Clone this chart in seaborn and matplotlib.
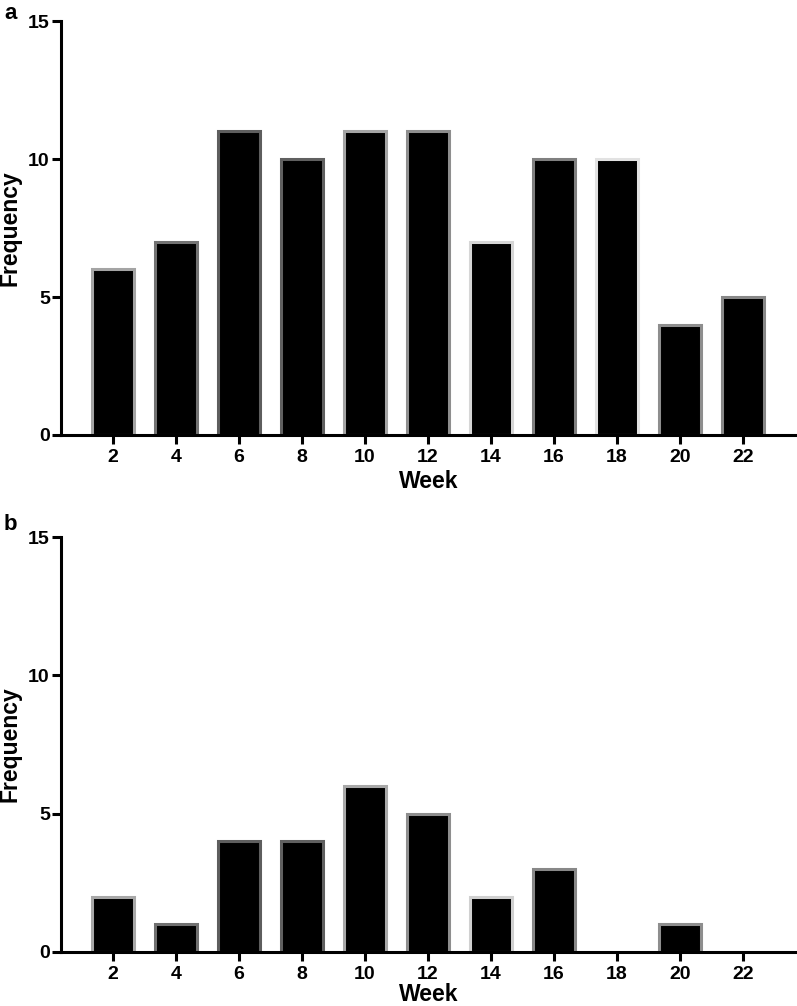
import matplotlib
matplotlib.use("Agg")
import matplotlib.pyplot as plt
import seaborn as sns
import pandas as pd

weeks = ["2", "4", "6", "8", "10", "12", "14", "16", "18", "20", "22"]
freq_a = [6, 7, 11, 10, 11, 11, 7, 10, 10, 4, 5]
freq_b = [2, 1, 4, 4, 6, 5, 2, 3, 0, 1, 0]
edge_a = ["#a4a4a4", "#737373", "#5e5e5e", "#606060", "#a4a4a4", "#8e8e8e",
          "#d6d6d6", "#808080", "#e2e2e2", "#8e8e8e", "#888888"]
edge_b = ["#a8a8a8", "#707070", "#5e5e5e", "#606060", "#a8a8a8", "#8e8e8e",
          "#d0d0d0", "#888888", "#e2e2e2", "#8e8e8e", "#888888"]
panel_labels = ["a", "b"]

sns.set_theme(style="ticks")
plt.rcParams['font.family'] = ['Liberation Sans', 'DejaVu Sans']
plt.rcParams['font.weight'] = 'bold'
plt.rcParams['text.color'] = 'black'

fig = plt.figure(figsize=(7.97, 10.06), dpi=100)
axA = fig.add_axes([0.0765, 0.5676, 0.9235, 0.4115])
axB = fig.add_axes([0.0765, 0.0537, 0.9235, 0.4125])

for ax, freq, edges, lp in [(axA, freq_a, edge_a, 3), (axB, freq_b, edge_b, 0)]:
    df = pd.DataFrame({"Week": weeks, "Frequency": freq})
    sns.barplot(data=df, x="Week", y="Frequency", order=weeks, color="black",
                width=0.67, ax=ax, saturation=1)
    for p, ec, v in zip(ax.patches, edges, freq):
        p.set_facecolor("black")
        p.set_edgecolor(ec)
        p.set_linewidth(2.2 if v > 0 else 0)
    ax.set_xlim(-0.825, 10.86)
    ax.set_ylim(0, 15)
    ax.set_yticks([0, 5, 10, 15])
    sns.despine(ax=ax)
    for s in ["left", "bottom"]:
        ax.spines[s].set_linewidth(2.2)
        ax.spines[s].set_color("black")
    ax.tick_params(axis="both", width=2.2, length=6.5, color="black",
                   labelsize=14, labelcolor="black")
    ax.tick_params(axis="x", pad=3.5)
    ax.tick_params(axis="y", pad=1.5)
    for t in ax.get_xticklabels() + ax.get_yticklabels():
        t.set_fontweight("bold")
    ax.set_xlabel("Week", fontsize=16.5, fontweight="bold", labelpad=lp, color="black")
    ax.set_ylabel("Frequency", fontsize=16.5, fontweight="bold", labelpad=5, color="black")

fig.text(0.005, 0.997, panel_labels[0], fontsize=16, fontweight="bold", va="top", ha="left", color="black")
fig.text(0.005, 0.489, panel_labels[1], fontsize=16, fontweight="bold", va="top", ha="left", color="black")

fig.savefig("out.png", dpi=100)
